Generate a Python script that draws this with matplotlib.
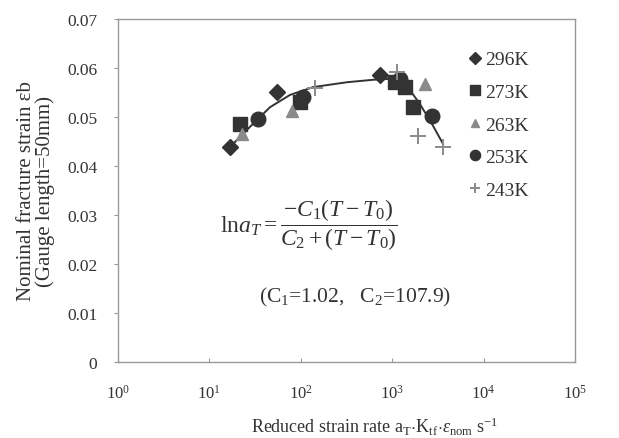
import matplotlib
matplotlib.use("Agg")
import matplotlib.pyplot as plt

plt.rcParams["font.family"] = ["Liberation Serif", "DejaVu Serif"]
plt.rcParams["mathtext.fontset"] = "custom"
plt.rcParams["mathtext.rm"] = "Liberation Serif"
plt.rcParams["mathtext.it"] = "Liberation Serif:italic"
plt.rcParams["mathtext.bf"] = "Liberation Serif:bold"

# data (reduced strain rate, fracture strain)
rate_296 = [16.8, 55, 735]
strain_296 = [0.0439, 0.0551, 0.0586]
rate_273 = [21.6, 98, 1070, 1380, 1690]
strain_273 = [0.0486, 0.0531, 0.0571, 0.0561, 0.0520]
rate_263 = [22.8, 80, 2290]
strain_263 = [0.0465, 0.0512, 0.0567]
rate_253 = [34, 106, 1230, 2750]
strain_253 = [0.0496, 0.0540, 0.0578, 0.0502]
rate_243 = [143, 1120, 1920, 3600]
strain_243 = [0.0559, 0.0592, 0.0461, 0.0439]

curve_rate = [17.7, 27.8, 46, 76, 136, 320, 617, 950, 1380, 2000, 2720, 3600]
curve_strain = [0.0443, 0.048, 0.052, 0.0545, 0.0561, 0.0571, 0.0576, 0.0578,
                0.0569, 0.0527, 0.0486, 0.0445]

temps = ["296K", "273K", "263K", "253K", "243K"]
ytick_vals = [0, 0.01, 0.02, 0.03, 0.04, 0.05, 0.06, 0.07]
ytick_labels = ["0", "0.01", "0.02", "0.03", "0.04", "0.05", "0.06", "0.07"]

dark = "#333333"
grey = "#8a8a8a"

fig = plt.figure(figsize=(6.19, 4.39), dpi=100)
ax = fig.add_axes([0.1906, 0.1731, 0.7384, 0.7813])

ax.plot(curve_rate, curve_strain, color=dark, lw=1.4, zorder=2)

h1, = ax.plot(rate_296, strain_296, "D", color=dark, ms=8.5, ls="none", zorder=3)
h2, = ax.plot(rate_273, strain_273, "s", color=dark, ms=9.5, ls="none", zorder=3)
h3, = ax.plot(rate_263, strain_263, "^", color=grey, ms=9, ls="none", zorder=3)
h4, = ax.plot(rate_253, strain_253, "o", color=dark, ms=10.5, ls="none", zorder=3)
h5, = ax.plot(rate_243, strain_243, "+", color=grey, ms=11, mew=1.4, ls="none", zorder=4)

ax.set_xscale("log")
ax.set_xlim(1, 1e5)
ax.set_ylim(0, 0.07)
ax.set_yticks(ytick_vals)
ax.set_yticklabels(ytick_labels)
ax.set_xticks([1, 10, 100, 1e3, 1e4, 1e5])
ax.set_xticklabels([r"10$^{0}$", r"10$^{1}$", r"10$^{2}$", r"10$^{3}$",
                    r"10$^{4}$", r"10$^{5}$"])
ax.minorticks_off()
ax.tick_params(axis="y", direction="out", length=3, color="#999999",
               labelsize=12.5, labelcolor=dark, pad=12)
ax.tick_params(axis="x", direction="in", length=3, color="#999999",
               labelsize=12, labelcolor=dark, pad=16)
for s in ax.spines.values():
    s.set_color("#999999")
    s.set_linewidth(1.0)

ax.set_ylabel("Nominal fracture strain \u03b5b\n(Gauge length=50mm)",
              fontsize=15, color=dark, linespacing=0.95)
ax.yaxis.set_label_coords(-0.138, 0.5)
ax.set_xlabel(r"Reduced strain rate a$_\mathrm{T}$$\cdot$K$_\mathrm{tf}$$\cdot$"
              r"$\varepsilon_\mathrm{nom}$ s$^{\mathrm{-1}}$",
              fontsize=13, color=dark)
ax.xaxis.set_label_coords(0.562, -0.155)

leg = ax.legend([h1, h2, h3, h4, h5], temps, loc="upper left",
                bbox_to_anchor=(0.752, 0.93), frameon=False, fontsize=14,
                handlelength=0.6, handletextpad=0.2, labelspacing=0.77,
                borderaxespad=0, markerscale=0.7)
for t in leg.get_texts():
    t.set_color(dark)

fig.text(220 / 619, 1 - 225 / 439,
         r"$\mathrm{ln}\mathit{a_T}=\dfrac{-\mathit{C_1(T-T_0)}}{\mathit{C_2+(T-T_0)}}$",
         fontsize=17, color=dark, va="center", ha="left")
fig.text(355 / 619, 1 - 297 / 439,
         r"(C$_\mathrm{1}$=1.02,   C$_\mathrm{2}$=107.9)",
         fontsize=15.5, color=dark, va="center", ha="center")

fig.savefig("out.png", dpi=100)
